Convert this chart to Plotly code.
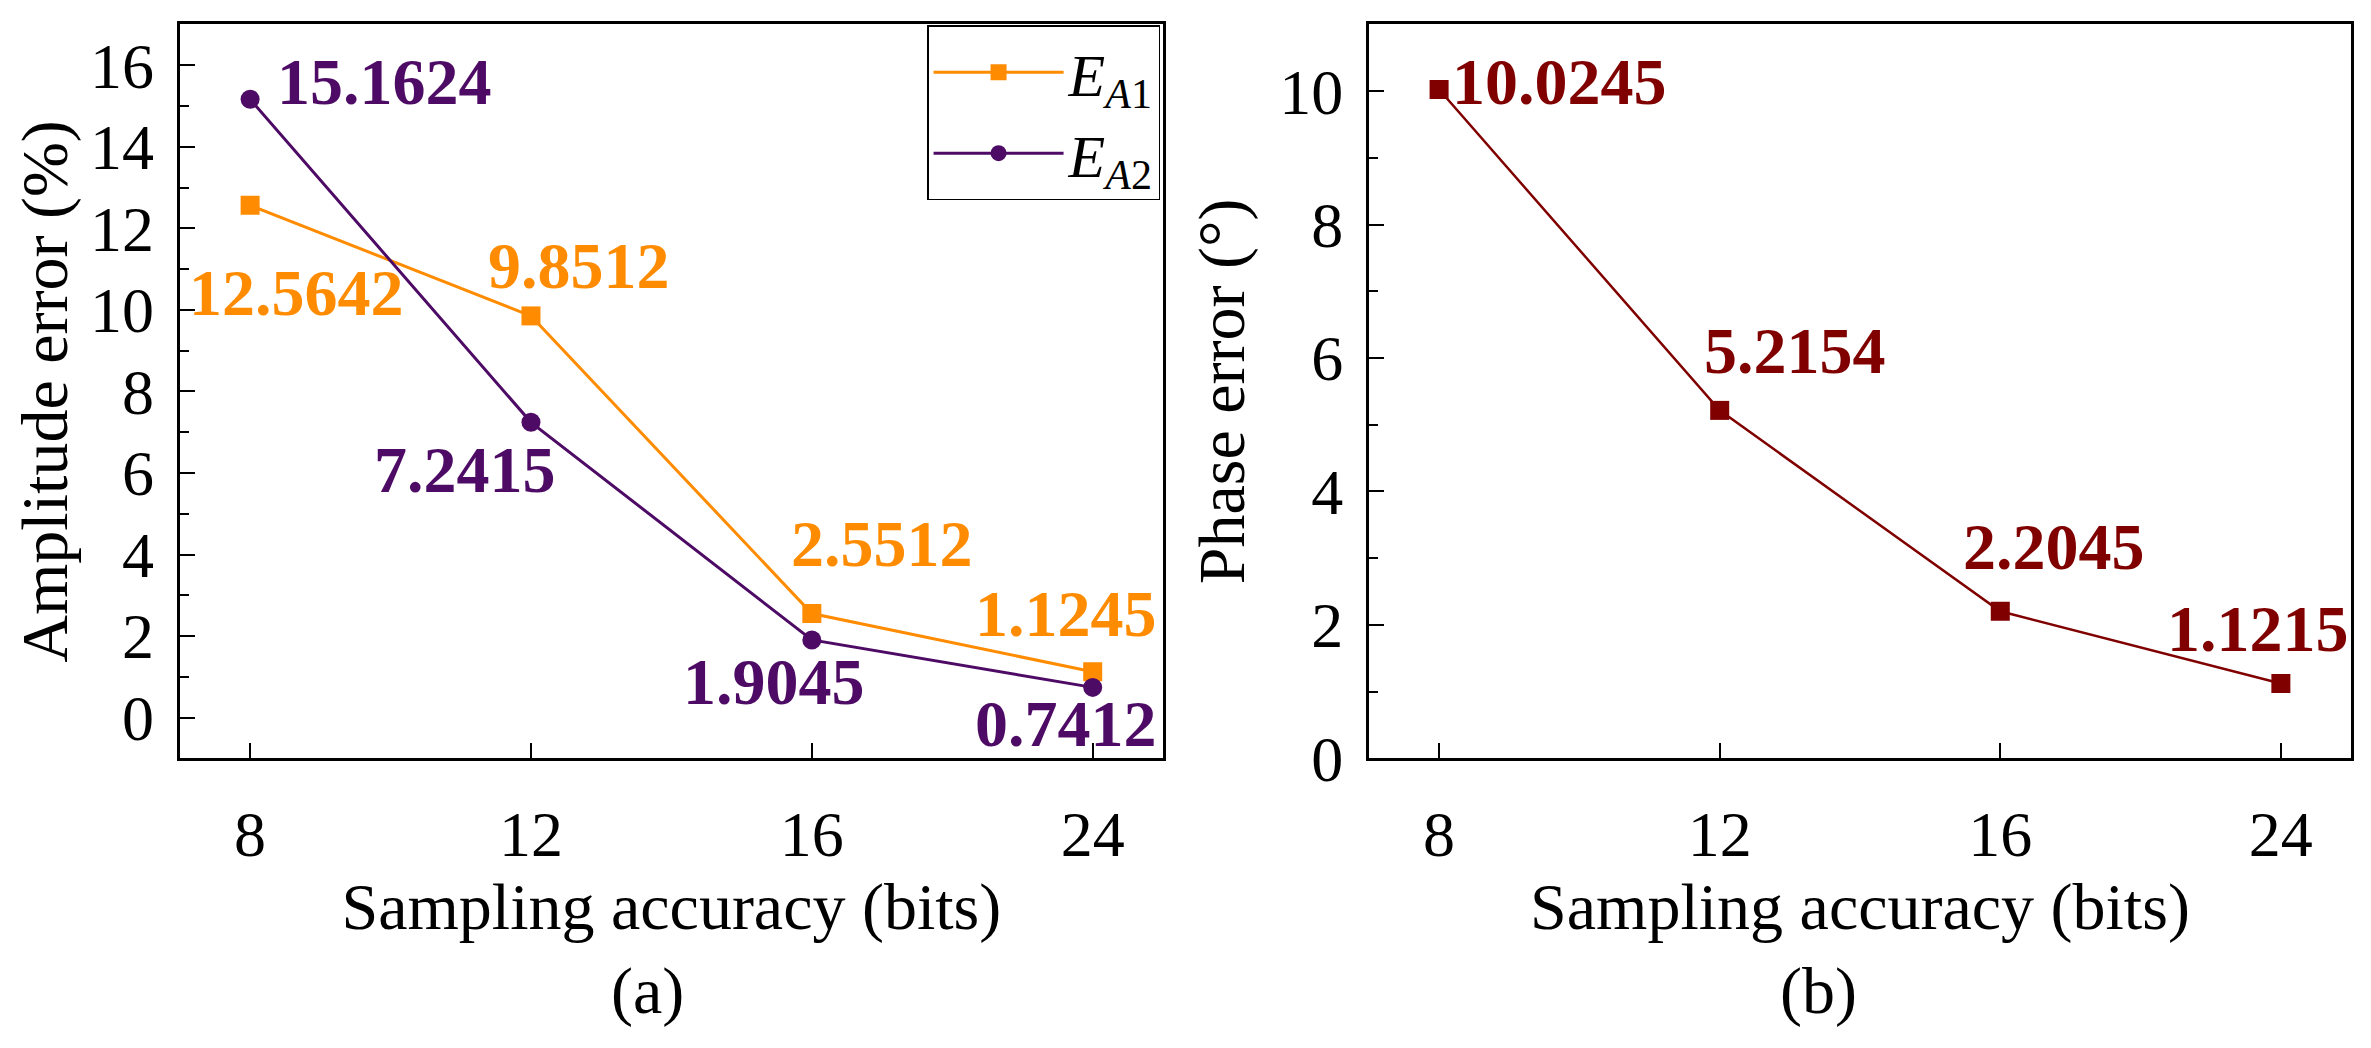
import plotly.graph_objects as go
from plotly.subplots import make_subplots


# sampling accuracy categories (bits)
bits = ['8', '12', '16', '24']

# amplitude error (%) for the two estimates
amp_err_a1 = [12.5642, 9.8512, 2.5512, 1.1245]
amp_err_a2 = [15.1624, 7.2415, 1.9045, 0.7412]

# phase error (degrees)
phase_err = [10.0245, 5.2154, 2.2045, 1.1215]

# pixel offsets of the value labels from their points (dx, dy), dy up
a1_label_shift = [(46, -87), (48, 50), (70, 70), (-27, 58)]
a2_label_shift = [(134, 18), (-66, -47), (-38, -42), (-27, -36)]
phase_label_shift = [(120, 8), (75, 60), (54, 65), (-23, 55)]

ORANGE = '#FF8C00'
PURPLE = '#4E0B65'
DARKRED = '#800000'
FONT = 'Liberation Serif, Times New Roman, serif'


def add_value_labels(fig, values, shifts, color, xref, yref):
    # category axes place annotations by category index
    for idx, (val, (dx, dy)) in enumerate(zip(values, shifts)):
        fig.add_annotation(
            x=idx, y=val, xref=xref, yref=yref,
            text=f'<b>{val:.4f}</b>',
            showarrow=False,
            xanchor='center', yanchor='middle',
            xshift=dx, yshift=dy,
            font=dict(family=FONT, size=66, color=color)
        )


def style_axes(fig, col, y_range, y_title, y_dtick):
    fig.update_xaxes(
        type='category',
        range=[-0.25, 3.25],
        showline=True, mirror=True, linecolor='black', linewidth=3,
        ticks='inside', ticklen=15, tickwidth=2, tickcolor='black',
        ticklabelstandoff=18,
        tickfont=dict(family=FONT, size=64, color='black'),
        title=dict(text='Sampling accuracy (bits)', standoff=10,
                   font=dict(family=FONT, size=66, color='black')),
        showgrid=False, zeroline=False,
        row=1, col=col
    )
    fig.update_yaxes(
        range=y_range,
        dtick=y_dtick, tick0=0,
        showline=True, mirror=True, linecolor='black', linewidth=3,
        ticks='inside', ticklen=15, tickwidth=2, tickcolor='black',
        ticklabelstandoff=10,
        minor=dict(dtick=1, tick0=1, ticks='inside', ticklen=9,
                   tickwidth=2, tickcolor='black', showgrid=False),
        tickfont=dict(family=FONT, size=64, color='black'),
        title=dict(text=y_title, standoff=14,
                   font=dict(family=FONT, size=66, color='black')),
        showgrid=False, zeroline=False,
        row=1, col=col
    )


fig = make_subplots(rows=1, cols=2)

fig.add_trace(
    go.Scatter(
        x=bits, y=amp_err_a1, mode='lines+markers',
        name='<i>E</i><sub><i>A</i>1</sub>',
        line=dict(color=ORANGE, width=3),
        marker=dict(symbol='square', size=19, color=ORANGE)
    ),
    row=1, col=1
)
fig.add_trace(
    go.Scatter(
        x=bits, y=amp_err_a2, mode='lines+markers',
        name='<i>E</i><sub><i>A</i>2</sub>',
        line=dict(color=PURPLE, width=3),
        marker=dict(symbol='circle', size=19, color=PURPLE)
    ),
    row=1, col=1
)
fig.add_trace(
    go.Scatter(
        x=bits, y=phase_err, mode='lines+markers',
        name='Phase error', showlegend=False,
        line=dict(color=DARKRED, width=2.5),
        marker=dict(symbol='square', size=19, color=DARKRED)
    ),
    row=1, col=2
)

add_value_labels(fig, amp_err_a1, a1_label_shift, ORANGE, 'x', 'y')
add_value_labels(fig, amp_err_a2, a2_label_shift, PURPLE, 'x', 'y')
add_value_labels(fig, phase_err, phase_label_shift, DARKRED, 'x2', 'y2')

style_axes(fig, 1, [-1, 17], 'Amplitude error (%)', 2)
style_axes(fig, 2, [0, 11], 'Phase error (°)', 2)

fig.update_layout(
    width=2371, height=1048,
    margin=dict(l=0, r=0, t=0, b=0),
    paper_bgcolor='white', plot_bgcolor='white',
    font=dict(family=FONT, color='black'),
    xaxis=dict(domain=[0.0725, 0.4871]),
    xaxis2=dict(domain=[0.574, 0.9882]),
    yaxis=dict(domain=[0.2585, 0.9838]),
    yaxis2=dict(domain=[0.2585, 0.9838]),
    legend=dict(
        x=0.4859, y=0.983, xanchor='right', yanchor='top',
        bgcolor='white', bordercolor='black', borderwidth=1.5,
        font=dict(family=FONT, size=60, color='black'),
        itemwidth=130, tracegroupgap=0
    ),
    showlegend=True
)

for label, xpos in [('(a)', 639 / 2371), ('(b)', 1810 / 2371)]:
    fig.add_annotation(
        x=xpos, y=1 - 1018 / 1048, xref='paper', yref='paper',
        xanchor='center', yanchor='middle',
        text=label, showarrow=False,
        font=dict(family=FONT, size=66, color='black')
    )

fig.write_html('out.html')
